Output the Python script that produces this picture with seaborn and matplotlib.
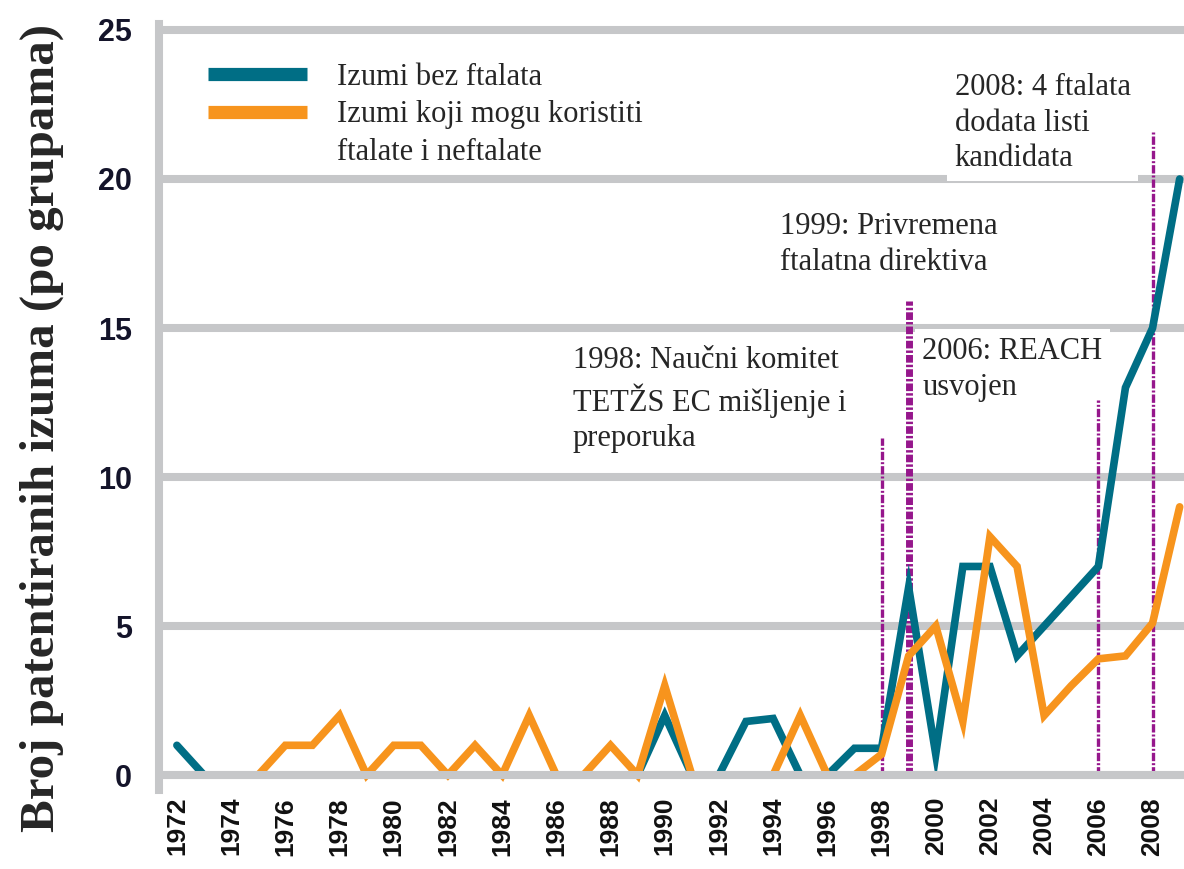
import pandas as pd
import matplotlib.pyplot as plt
import seaborn as sns
from matplotlib.lines import Line2D

years = list(range(1972, 2010))
# Izumi bez ftalata
bez_ftalata = [1, 0, 0, 0, 0, 0, 0, 0, 0, 0,
               0, 0, 0, 0, 0, 0, 0, 0, 2, 0,
               0, 1.8, 1.9, 0, 0, 0.9, 0.9, 6.3, 0.7, 7,
               7, 4, 5, 6, 7, 13, 15, 20]
# Izumi koji mogu koristiti ftalate i neftalate
koji_mogu = [0, 0, 0, 0, 1, 1, 2, 0, 1, 1,
             0, 1, 0, 2, 0, 0, 1, 0, 3, 0,
             0, 0, 0, 2, 0, 0, 0.7, 4, 5, 1.8,
             8, 7, 2, 3, 3.9, 4, 5.1, 9]

series_names = ['Izumi bez ftalata', 'Izumi koji mogu koristiti']
event_years = [1998, 1999, 2006, 2008]
event_tops = [11.3, 15.9, 12.6, 21.6]
event_texts = ['1998: Naučni komitet\nTETŽS EC mišljenje i\npreporuka',
               '1999: Privremena\nftalatna direktiva',
               '2006: REACH\nusvojen',
               '2008: 4 ftalata\ndodata listi\nkandidata']
text_pos = [(1986.6, 14.4), (1994.25, 18.88), (1999.5, 14.7), (2000.7, 23.55)]

teal = '#006e85'
orange = '#f7941d'
gray = '#c6c7c9'
purple = '#96178c'

sns.set_style("white")
plt.rcParams['font.family'] = ['Liberation Serif', 'DejaVu Serif']

df = pd.DataFrame({
    'godina': years * 2,
    'broj': bez_ftalata + koji_mogu,
    'grupa': [series_names[0]] * len(years) + [series_names[1]] * len(years),
})

fig = plt.figure(figsize=(11.84, 8.69), dpi=100)
ax = fig.add_axes([0.1343, 0.0909, 0.8657, 0.8815])

sns.lineplot(data=df, x='godina', y='broj', hue='grupa',
             palette={series_names[0]: teal, series_names[1]: orange},
             linewidth=5.5, legend=False, ax=ax, zorder=3,
             solid_joinstyle='miter')

# event markers
for i, yr in enumerate(event_years):
    if yr == 1999:
        lw, ls = 5.0, (0, (1.1, 0.3, 0.35, 0.3))
    else:
        lw, ls = 2.4, (0, (2.5, 0.6, 0.6, 0.6))
    ax.vlines(yr, 0, event_tops[i], colors=purple, linewidths=lw,
              linestyles=ls, zorder=2.6)
    ax.text(text_pos[i][0], text_pos[i][1], event_texts[i], fontsize=22,
            ha='left', va='top', zorder=2.5, linespacing=1.3,
            bbox=dict(facecolor='white', edgecolor='none',
                      boxstyle='square,pad=0.25'))

ax.set_xlim(1971.34, 2009.16)
ax.set_ylim(-0.5, 25.2)
ax.set_yticks(range(0, 30, 5))
ax.set_xticks(range(1972, 2009, 2))
ax.set_xticks([y + 0.5 for y in range(1972, 2009)], minor=True)

ax.set_axisbelow(True)
ax.yaxis.grid(True, color=gray, linewidth=5.8)
ax.xaxis.grid(False)
ax.axhline(0, color=gray, linewidth=5.8, zorder=4)

for side in ['top', 'right', 'bottom']:
    ax.spines[side].set_visible(False)
ax.spines['left'].set_color(gray)
ax.spines['left'].set_linewidth(5.8)

ax.tick_params(axis='y', length=10.5, width=5.8, color=gray, pad=9,
               labelsize=22, labelcolor='#14142a')
ax.tick_params(axis='x', which='major', length=0, pad=5, labelsize=19,
               labelrotation=90, labelcolor='#111111')
ax.tick_params(axis='x', which='minor', length=14, width=1.5,
               color='#cfcfcf', direction='inout')
for lbl in ax.get_yticklabels() + ax.get_xticklabels():
    lbl.set_fontfamily('Liberation Sans')
    lbl.set_fontweight('bold')

ax.set_xlabel('')
ax.set_ylabel('Broj patentiranih izuma (po grupama)', fontsize=35.3,
              fontweight='bold')
ax.yaxis.set_label_coords(-0.0927, 0.4726)

handles = [Line2D([], [], color=teal, lw=9.5, solid_capstyle='butt'),
           Line2D([], [], color=orange, lw=9.5, solid_capstyle='butt'),
           Line2D([], [], color='none')]
labels = ['Izumi bez ftalata', 'Izumi koji mogu koristiti', 'ftalate i neftalate']
ax.legend(handles, labels, loc='upper left', bbox_to_anchor=(0.0478, 0.949),
          frameon=False, fontsize=22, handlelength=3.24, handletextpad=0.98,
          labelspacing=0.27, borderpad=0, borderaxespad=0)

fig.savefig('out.png', dpi=100)
